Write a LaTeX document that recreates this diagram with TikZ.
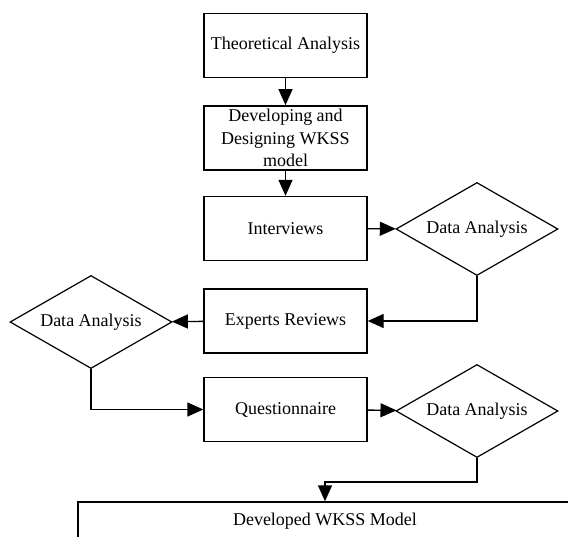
\documentclass[tikz,border=0pt]{standalone}
\usepackage{fontspec}
\setmainfont{Liberation Serif}
\usepackage{tikz}
\usetikzlibrary{shapes.geometric, arrows.meta}

\begin{document}
\begin{tikzpicture}[x=1pt, y=-1pt, line width=1.4pt, >={Triangle[length=16pt,width=14pt]},
	stage/.style={draw, rectangle, line width=1.4pt, minimum width=163pt, minimum height=64pt, align=center, font=\fontsize{18}{22.5}\selectfont},
	check/.style={draw, diamond, aspect=1.76, line width=1.2pt, minimum width=162pt, minimum height=93pt, inner sep=0pt, font=\fontsize{18}{22.5}\selectfont}]
				\useasboundingbox (0,0) rectangle (568,536);
				\node[stage] (theory) at (285.5,45.5) {Theoretical Analysis};
				\node[stage] (design) at (285.5,138) {Developing and\\Designing WKSS\\model};
				\node[stage] (interv) at (285.5,228.5) {Interviews};
				\node[check] (anaI) at (477,229) {Data Analysis};
				\node[stage] (expert) at (285.5,321) {Experts Reviews};
				\node[check] (anaII) at (91,322) {Data Analysis};
				\node[stage] (quest) at (285.5,409.5) {Questionnaire};
				\node[check] (anaIII) at (477,411) {Data Analysis};
				\node[stage, minimum width=494pt, minimum height=38pt] (model) at (325,521) {Developed WKSS Model};
				\draw[->] (theory) -- (design);
				\draw[->] (design) -- (interv);
				\draw[->] (interv) -- (anaI);
				\draw[->] (anaI.south) |- (expert.east);
				\draw[->] (expert) -- (anaII);
				\draw[->] (anaII.south) |- (quest.west);
				\draw[->] (quest) -- (anaIII);
				\draw[->] (anaIII.south) -- ++(0,24) -| (model.north);
			\end{tikzpicture}
\end{document}
